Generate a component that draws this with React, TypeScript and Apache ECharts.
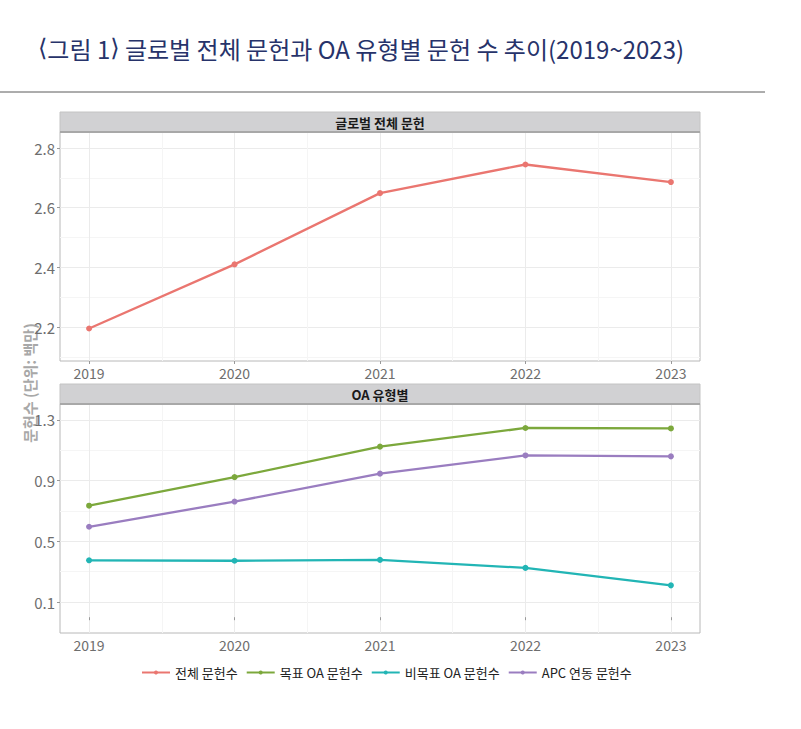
import React, { useEffect, useRef } from "react";
import * as echarts from "echarts";

const years = [2019, 2020, 2021, 2022, 2023];
const yearMinor = [2019.5, 2020.5, 2021.5, 2022.5];
const totalDocs = [2.195, 2.41, 2.649, 2.745, 2.686];
const goldOA = [0.735, 0.923, 1.124, 1.247, 1.244];
const nonGoldOA = [0.375, 0.372, 0.378, 0.325, 0.21];
const apcOA = [0.596, 0.762, 0.946, 1.066, 1.06];
const topTicks = [2.2, 2.4, 2.6, 2.8];
const topMinor = [2.1, 2.3, 2.5, 2.7];
const botTicks = [0.1, 0.5, 0.9, 1.3];
const botMinor = [0.3, 0.7, 1.1];
const seriesNames = ["전체 문헌수", "목표 OA 문헌수", "비목표 OA 문헌수", "APC 연동 문헌수"];
const colors = ["#EA7670", "#7CA83C", "#22B5B5", "#9A7DC0"];

const FONT = "'Noto Sans CJK KR', 'Noto Sans', sans-serif";

function pairs(vals: number[]) {
  return years.map((y, i) => [y, vals[i]]);
}

export default function App() {
  const ref = useRef<HTMLDivElement>(null);
  useEffect(() => {
    document.body.style.margin = "0";
    const chart = echarts.init(ref.current!, null, { renderer: "svg" });
    const xMajor = (gridIndex: number) => ({
      type: "value",
      gridIndex,
      min: 2018.8,
      max: 2023.2,
      axisLine: { show: false },
      axisTick: { show: true, customValues: years, length: 3, lineStyle: { color: "#999" } },
      axisLabel: {
        customValues: years,
        color: "#6e6e6e",
        fontSize: 14,
        fontFamily: FONT,
        margin: 5,
        formatter: (v: number) => String(Math.round(v)),
      },
      splitLine: { show: true, lineStyle: { color: "#ebebeb", width: 1 } },
    });
    const xMinorAx = (gridIndex: number) => ({
      type: "value",
      gridIndex,
      min: 2018.8,
      max: 2023.2,
      axisLine: { show: false },
      axisTick: { show: false, customValues: yearMinor },
      axisLabel: { show: false, customValues: yearMinor },
      splitLine: { show: true, lineStyle: { color: "#f5f5f5", width: 1 } },
    });
    const yMajor = (gridIndex: number, min: number, max: number, ticks: number[]) => ({
      type: "value",
      gridIndex,
      min,
      max,
      axisLine: { show: false },
      axisTick: { show: true, customValues: ticks, length: 3, lineStyle: { color: "#999" } },
      axisLabel: {
        customValues: ticks,
        color: "#6e6e6e",
        fontSize: 15,
        fontFamily: FONT,
        margin: 5,
        formatter: (v: number) => v.toFixed(1),
      },
      splitLine: { show: true, lineStyle: { color: "#ebebeb", width: 1 } },
    });
    const yMinorAx = (gridIndex: number, min: number, max: number, ticks: number[]) => ({
      type: "value",
      gridIndex,
      min,
      max,
      position: "left",
      axisLine: { show: false },
      axisTick: { show: false, customValues: ticks },
      axisLabel: { show: false, customValues: ticks },
      splitLine: { show: true, lineStyle: { color: "#f5f5f5", width: 1 } },
    });
    const lineSeries = (name: string, vals: number[], color: string, xi: number, yi: number) => ({
      type: "line",
      name,
      data: pairs(vals),
      xAxisIndex: xi,
      yAxisIndex: yi,
      symbol: "circle",
      symbolSize: 6,
      z: 5,
      lineStyle: { color, width: 2.3 },
      itemStyle: { color },
    });
    const strip = (y: number, text: string) => [
      {
        type: "rect",
        shape: { x: 60, y, width: 640, height: 20 },
        style: { fill: "#D1D1D3", stroke: "#c4c4c4", lineWidth: 1 },
        z: 10,
      },
      {
        type: "line",
        shape: { x1: 60, y1: y + 20, x2: 700, y2: y + 20 },
        style: { stroke: "#a8a8a8", lineWidth: 2 },
        z: 11,
      },
      {
        type: "text",
        x: 380,
        y: y + 10,
        style: {
          text,
          font: `bold 13px ${FONT}`,
          fill: "#1a1a1a",
          textAlign: "center",
          textVerticalAlign: "middle",
        },
        z: 12,
      },
    ];
    chart.setOption({
      animation: false,
      backgroundColor: "#ffffff",
      textStyle: { fontFamily: FONT },
      grid: [
        { left: 60, top: 132, width: 640, height: 229, show: true, borderColor: "#b8b8b8", borderWidth: 1, backgroundColor: "transparent" },
        { left: 60, top: 404, width: 640, height: 229, show: true, borderColor: "#b8b8b8", borderWidth: 1, backgroundColor: "transparent" },
      ],
      xAxis: [xMajor(0), xMinorAx(0), xMajor(1), xMinorAx(1)],
      yAxis: [
        yMajor(0, 2.086, 2.854, topTicks),
        yMinorAx(0, 2.086, 2.854, topMinor),
        yMajor(1, -0.104, 1.405, botTicks),
        yMinorAx(1, -0.104, 1.405, botMinor),
      ],
      legend: {
        data: seriesNames,
        left: 136,
        top: 661,
        itemGap: 8,
        itemWidth: 28,
        itemHeight: 5,
        textStyle: { fontSize: 13, color: "#222", fontFamily: FONT },
      },
      series: [
        lineSeries(seriesNames[0], totalDocs, colors[0], 0, 0),
        lineSeries(seriesNames[1], goldOA, colors[1], 2, 2),
        lineSeries(seriesNames[2], nonGoldOA, colors[2], 2, 2),
        lineSeries(seriesNames[3], apcOA, colors[3], 2, 2),
      ],
      graphic: [
        {
          type: "text",
          x: 38,
          y: 48,
          style: {
            text: "{b|⟨}그림 1{b|⟩} 글로벌 전체 문헌과 OA 유형별 문헌 수 추이(2019~2023)",
            font: `24px ${FONT}`,
            fill: "#27336a",
            textVerticalAlign: "middle",
            rich: {
              b: { fontFamily: "'DejaVu Sans'", fontSize: 24, fill: "#27336a" },
            },
          },
        },
        {
          type: "line",
          shape: { x1: 0, y1: 92, x2: 765, y2: 92 },
          style: { stroke: "#5a5a5a", lineWidth: 1 },
        },
        ...strip(112, "글로벌 전체 문헌"),
        ...strip(384, "OA 유형별"),
        {
          type: "text",
          x: 29,
          y: 383,
          rotation: Math.PI / 2,
          style: {
            text: "문헌수 (단위: 백만)",
            font: `bold 15px ${FONT}`,
            fill: "#a8a8a8",
            textAlign: "center",
            textVerticalAlign: "middle",
          },
        },
      ],
    });
    return () => chart.dispose();
  }, []);
  return <div ref={ref} style={{ width: 801, height: 729 }} />;
}
